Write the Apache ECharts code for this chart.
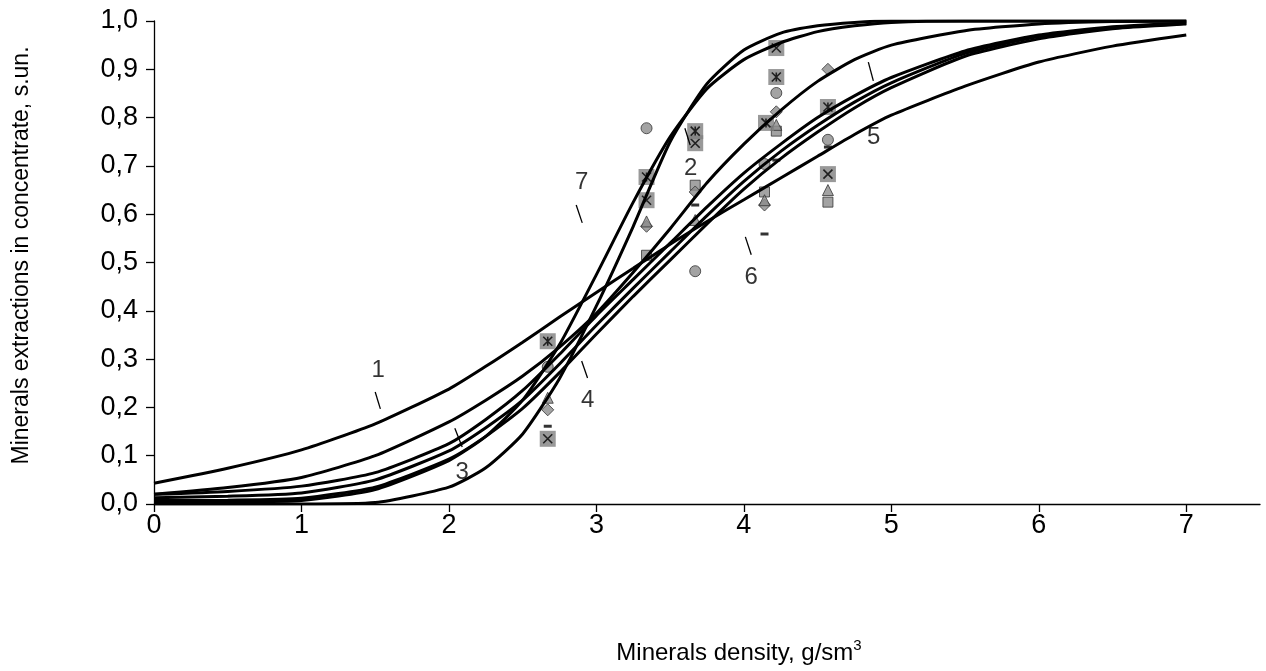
<!DOCTYPE html>
<html>
<head>
<meta charset="utf-8">
<title>Minerals extraction vs density</title>
<script src="https://cdn.jsdelivr.net/npm/echarts@6/dist/echarts.min.js"></script>
<style>
  html, body { margin: 0; padding: 0; background: #fff; }
  #chart { width: 1266px; height: 671px; }
</style>
</head>
<body>
<div id="chart"></div>
<script>
// density grid shared by the seven model curves
const xs = [0, 0.5, 1, 1.5, 2, 2.25, 2.5, 2.75, 3, 3.25, 3.5, 3.75, 4, 4.25, 4.5, 4.75, 5, 5.5, 6, 6.5, 7];

// curves
const curve1 = [0.043, 0.074, 0.112, 0.166, 0.238, 0.285, 0.335, 0.387, 0.438, 0.488, 0.538, 0.585, 0.63, 0.675, 0.72, 0.765, 0.805, 0.865, 0.915, 0.948, 0.971];
const curve3 = [0, 0, 0, 0.003, 0.035, 0.075, 0.145, 0.26, 0.41, 0.575, 0.75, 0.87, 0.94, 0.975, 0.99, 0.997, 1, 1, 1, 1, 1];
const curve7 = [0.003, 0.004, 0.007, 0.03, 0.09, 0.14, 0.215, 0.33, 0.475, 0.625, 0.76, 0.86, 0.92, 0.955, 0.978, 0.99, 0.997, 1, 1, 1, 1];
const curveD = [0.02, 0.034, 0.055, 0.1, 0.17, 0.215, 0.265, 0.325, 0.395, 0.48, 0.57, 0.665, 0.745, 0.815, 0.875, 0.92, 0.95, 0.98, 0.994, 0.999, 1];
const curveM1 = [0.02, 0.026, 0.037, 0.065, 0.125, 0.175, 0.235, 0.31, 0.39, 0.465, 0.54, 0.615, 0.685, 0.745, 0.8, 0.845, 0.883, 0.938, 0.971, 0.988, 0.996];
const curveM2 = [0.013, 0.016, 0.023, 0.05, 0.11, 0.158, 0.215, 0.29, 0.37, 0.447, 0.522, 0.597, 0.668, 0.73, 0.784, 0.832, 0.872, 0.933, 0.968, 0.986, 0.995];
const curveM3 = [0.007, 0.008, 0.012, 0.035, 0.093, 0.14, 0.198, 0.272, 0.352, 0.43, 0.505, 0.58, 0.652, 0.715, 0.77, 0.82, 0.862, 0.927, 0.963, 0.984, 0.994];
const curves = [curve1, curve3, curve7, curveD, curveM1, curveM2, curveM3];

// experimental points, [density, extraction]
const circlePts = [[2.67, 0.284], [3.34, 0.778], [3.67, 0.482], [4.14, 0.704], [4.22, 0.851], [4.57, 0.754]];
const squarePts = [[3.34, 0.515], [3.67, 0.66], [4.14, 0.646], [4.22, 0.772], [4.57, 0.625]];
const diamondPts = [[2.67, 0.195], [3.34, 0.575], [3.67, 0.646], [4.14, 0.619], [4.22, 0.812], [4.57, 0.90]];
const trianglePts = [[2.67, 0.22], [3.34, 0.585], [3.67, 0.588], [4.14, 0.629], [4.22, 0.785], [4.57, 0.65]];
const dashPts = [[2.67, 0.161], [3.67, 0.619], [4.14, 0.559], [4.22, 0.712], [4.57, 0.739]];
const crossPts = [[2.67, 0.135], [3.34, 0.629], [3.67, 0.747], [4.22, 0.944], [4.57, 0.683]];
const starPts = [[2.67, 0.337], [3.34, 0.677], [3.67, 0.772], [4.15, 0.789], [4.22, 0.884], [4.57, 0.822]];

// curve numbers and their little leader strokes
const curveLabels = [[1.52, 0.277, '1'], [3.64, 0.695, '2'], [2.09, 0.066, '3'], [2.94, 0.215, '4'], [4.88, 0.76, '5'], [4.05, 0.47, '6'], [2.9, 0.665, '7']];
const leaders = [
  [[1.50, 0.232], [1.535, 0.197]],
  [[3.60, 0.778], [3.636, 0.743]],
  [[2.04, 0.157], [2.09, 0.118]],
  [[2.90, 0.296], [2.94, 0.261]],
  [[4.844, 0.915], [4.878, 0.876]],
  [[4.01, 0.553], [4.05, 0.516]],
  [[2.863, 0.619], [2.904, 0.582]]
];

const xTicks = [0, 1, 2, 3, 4, 5, 6, 7];

const FONT = 'Liberation Sans';
const GREY = '#8c8c8c';
const markerStyle = { color: GREY, borderColor: '#333', borderWidth: 1 };

function scatter(data, symbol, size, style) {
  return {
    type: 'scatter', data: data, symbol: symbol, symbolSize: size,
    itemStyle: style, silent: true, z: 2
  };
}

const series = [];
series.push(scatter(circlePts, 'circle', 11, markerStyle));
series.push(scatter(squarePts, 'rect', 10, markerStyle));
series.push(scatter(diamondPts, 'diamond', 12, markerStyle));
series.push(scatter(trianglePts, 'triangle', 11, markerStyle));
series.push(scatter(dashPts, 'rect', [8, 3], { color: '#000' }));
series.push(scatter(crossPts, 'rect', 16, { color: '#808080' }));
series.push(scatter(crossPts, 'path://M0,0L10,10M10,0L0,10', 9, { color: 'rgba(0,0,0,0)', borderColor: '#000', borderWidth: 1.6 }));
series.push(scatter(starPts, 'rect', 16, { color: '#808080' }));
series.push(scatter(starPts, 'path://M0,0L10,10M10,0L0,10M5,0L5,10', 9, { color: 'rgba(0,0,0,0)', borderColor: '#000', borderWidth: 1.6 }));

curves.forEach(function (c) {
  series.push({
    type: 'line',
    data: xs.map(function (x, i) { return [x, c[i]]; }),
    symbol: 'none',
    smooth: 0.2,
    lineStyle: { color: '#000', width: 3 },
    silent: true,
    z: 3
  });
});

series.push({
  type: 'lines',
  coordinateSystem: 'cartesian2d',
  data: leaders.map(function (l) { return { coords: l }; }),
  lineStyle: { color: '#000', width: 1.3, opacity: 1 },
  silent: true,
  z: 4
});

series.push({
  type: 'scatter',
  data: curveLabels,
  symbolSize: 0,
  label: {
    show: true, position: 'inside',
    formatter: function (p) { return p.value[2]; },
    fontFamily: FONT, fontSize: 24, color: '#000'
  },
  silent: true,
  z: 4
});

const chart = echarts.init(document.getElementById('chart'));
chart.setOption({
  animation: false,
  backgroundColor: '#fff',
  grid: { left: 154, right: 6, top: 21, bottom: 167 },
  xAxis: {
    type: 'value', min: 0, max: 7.5, interval: 1,
    name: 'Minerals density, g/sm{sup|3}',
    nameLocation: 'middle', nameGap: 134,
    nameTextStyle: {
      fontFamily: FONT, fontSize: 24, color: '#000', padding: [0, 0, 0, 64],
      rich: { sup: { fontFamily: FONT, fontSize: 15, verticalAlign: 'top', padding: [0, 0, 16, 0], color: '#000' } }
    },
    axisLine: { lineStyle: { color: '#000', width: 1.3 } },
    axisTick: { show: true, length: 8, inside: false, customValues: xTicks, lineStyle: { color: '#000', width: 1.3 } },
    axisLabel: {
      customValues: xTicks, margin: 8, fontFamily: FONT, fontSize: 27, color: '#000',
      formatter: function (v) { return Number.isInteger(v) ? String(v) : ''; }
    },
    splitLine: { show: false }
  },
  yAxis: {
    type: 'value', min: 0, max: 1, interval: 0.1,
    name: 'Minerals extractions in concentrate, s.un.',
    nameLocation: 'middle', nameGap: 121, nameRotate: 90,
    nameTextStyle: { fontFamily: FONT, fontSize: 23, color: '#000', padding: [0, 0, 0, 14] },
    axisLine: { show: true, lineStyle: { color: '#000', width: 1.3 } },
    axisTick: { show: true, length: 8, inside: false, lineStyle: { color: '#000', width: 1.3 } },
    axisLabel: {
      margin: 16, fontFamily: FONT, fontSize: 27, color: '#000',
      formatter: function (v) { return v.toFixed(1).replace('.', ','); }
    },
    splitLine: { show: false }
  },
  series: series
});
</script>
</body>
</html>
